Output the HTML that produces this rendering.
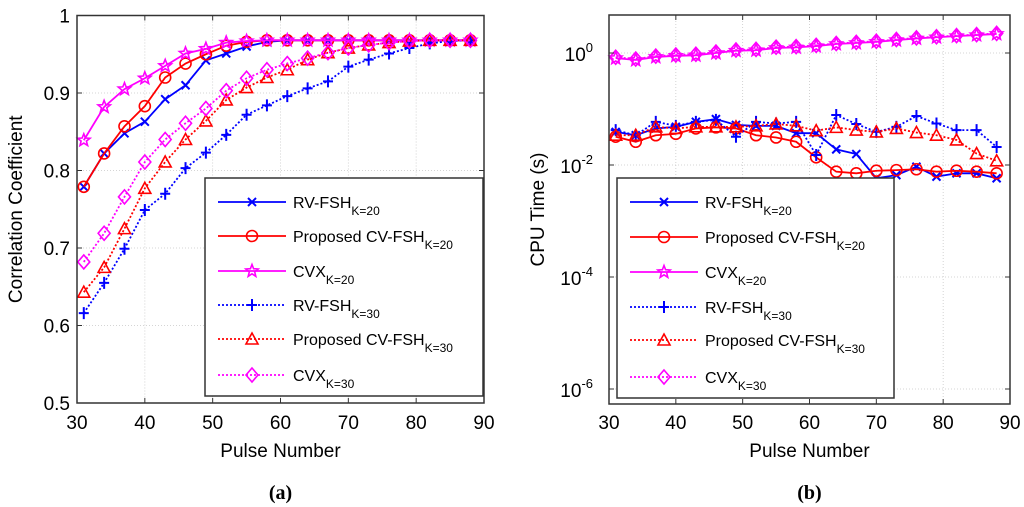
<!DOCTYPE html>
<html><head><meta charset="utf-8"><style>
html,body{margin:0;padding:0;background:#fff}
svg{display:block;font-family:"Liberation Sans",sans-serif}
</style></head><body>
<svg id="fig" width="1024" height="507" viewBox="0 0 1024 507"></svg>
<script>
const pulses=[31,34,37,40,43,46,49,52,55,58,61,64,67,70,73,76,79,82,85,88];
const xTicks=[30,40,50,60,70,80,90];
const corrTicks=[0.5,0.6,0.7,0.8,0.9,1];
const corrTickLabels=["0.5","0.6","0.7","0.8","0.9","1"];
const timeTickExps=[-6,-4,-2,0];
const corrRV20=[0.779,0.822,0.848,0.863,0.892,0.910,0.942,0.951,0.960,0.966,0.968,0.968,0.968,0.968,0.968,0.968,0.968,0.968,0.968,0.968];
const corrP20=[0.779,0.822,0.857,0.883,0.920,0.938,0.950,0.961,0.966,0.968,0.968,0.968,0.968,0.968,0.968,0.968,0.968,0.968,0.968,0.968];
const corrCVX20=[0.839,0.882,0.905,0.919,0.935,0.951,0.957,0.965,0.967,0.968,0.968,0.968,0.968,0.968,0.968,0.968,0.968,0.968,0.968,0.968];
const corrRV30=[0.616,0.655,0.699,0.749,0.770,0.803,0.823,0.846,0.872,0.884,0.896,0.906,0.915,0.934,0.943,0.951,0.958,0.964,0.967,0.968];
const corrP30=[0.643,0.675,0.725,0.777,0.811,0.840,0.864,0.891,0.907,0.920,0.930,0.943,0.952,0.958,0.962,0.965,0.967,0.968,0.968,0.968];
const corrCVX30=[0.682,0.719,0.766,0.811,0.840,0.861,0.880,0.903,0.919,0.930,0.938,0.945,0.952,0.958,0.962,0.965,0.967,0.968,0.968,0.968];
const timeRV20=[0.039,0.034,0.045,0.048,0.059,0.066,0.052,0.050,0.050,0.037,0.037,0.019,0.0157,0.0058,0.0066,0.0093,0.0062,0.0071,0.0071,0.0058];
const timeP20=[0.032,0.026,0.034,0.036,0.045,0.047,0.045,0.034,0.031,0.026,0.0137,0.0076,0.0071,0.0079,0.0081,0.0084,0.0076,0.0079,0.0076,0.0071];
const timeCVX20=[0.81,0.75,0.85,0.89,0.91,1.0,1.10,1.12,1.23,1.26,1.33,1.45,1.51,1.58,1.70,1.82,1.91,2.0,2.09,2.19];
const timeRV30=[0.042,0.034,0.059,0.050,0.059,0.064,0.032,0.059,0.055,0.059,0.0151,0.078,0.054,0.039,0.048,0.075,0.055,0.042,0.042,0.021];
const timeP30=[0.034,0.034,0.048,0.045,0.048,0.048,0.048,0.050,0.054,0.050,0.041,0.047,0.042,0.039,0.045,0.038,0.034,0.028,0.016,0.0119];
const timeCVX30=[0.84,0.78,0.88,0.92,0.95,1.04,1.13,1.16,1.27,1.30,1.37,1.48,1.55,1.62,1.74,1.86,1.95,2.04,2.13,2.24];

const NS="http://www.w3.org/2000/svg";
const svg=document.getElementById('fig');
function mk(tag,attrs,parent){const e=document.createElementNS(NS,tag);for(const k in attrs)e.setAttribute(k,attrs[k]);(parent||svg).appendChild(e);return e;}
function txt(s,x,y,size,anchor,parent,extra){const t=mk('text',Object.assign({x:x,y:y,'font-size':size,'text-anchor':anchor||'middle',fill:'#000'},extra||{}),parent);t.textContent=s;return t;}

function marker(g,type,x,y,color){
  const r=5.5,sw=1.6;let e;
  if(type==='x'){e=mk('path',{d:`M${x-4} ${y-4}L${x+4} ${y+4}M${x-4} ${y+4}L${x+4} ${y-4}`,stroke:color,'stroke-width':2,fill:'none'},g);}
  else if(type==='o'){e=mk('circle',{cx:x,cy:y,r:r,stroke:color,'stroke-width':sw,fill:'none'},g);}
  else if(type==='+'){e=mk('path',{d:`M${x-5} ${y}L${x+5} ${y}M${x} ${y-6}L${x} ${y+6}`,stroke:color,'stroke-width':2,fill:'none'},g);}
  else if(type==='^'){e=mk('path',{d:`M${x} ${y-6}L${x+6} ${y+5}L${x-6} ${y+5}Z`,stroke:color,'stroke-width':sw,fill:'none'},g);}
  else if(type==='d'){e=mk('path',{d:`M${x} ${y-7}L${x+6} ${y}L${x} ${y+7}L${x-6} ${y}Z`,stroke:color,'stroke-width':sw,fill:'none'},g);}
  else if(type==='*'){let p='';for(let i=0;i<10;i++){const a=-Math.PI/2+i*Math.PI/5;const rr=i%2?2.8:6.5;p+=(i?'L':'M')+(x+rr*Math.cos(a)).toFixed(1)+' '+(y+rr*Math.sin(a)).toFixed(1);}e=mk('path',{d:p+'Z',stroke:color,'stroke-width':sw,fill:'none'},g);}
  
  
}

const seriesDefs=[
 {name:'RV-FSH',k:'20',color:'#0000ff',dash:null,m:'x'},
 {name:'Proposed CV-FSH',k:'20',color:'#ff0000',dash:null,m:'o'},
 {name:'CVX',k:'20',color:'#ff00ff',dash:null,m:'*'},
 {name:'RV-FSH',k:'30',color:'#0000ff',dash:'2,2',m:'+'},
 {name:'Proposed CV-FSH',k:'30',color:'#ff0000',dash:'2,2',m:'^'},
 {name:'CVX',k:'30',color:'#ff00ff',dash:'2,2',m:'d'}];

function panel(o){
  const g=mk('g',{});
  const {L,R,T,B}=o;
  const xs=v=>L+(v-30)/60*(R-L);
  const grid=mk('g',{},g);
  xTicks.forEach(v=>{if(v>30&&v<90)mk('line',{x1:xs(v),x2:xs(v),y1:T,y2:B,stroke:'#c8c8c8','stroke-width':0.8,'stroke-dasharray':'1,2'},grid);});
  o.yTicks.forEach(v=>{const y=o.ys(v);if(y>T+1&&y<B-1)mk('line',{x1:L,x2:R,y1:y,y2:y,stroke:'#c8c8c8','stroke-width':0.8,'stroke-dasharray':'1,2'},grid);});
  // series
  o.series.forEach((vals,i)=>{
    const d=seriesDefs[i];
    const sg=mk('g',{},g);
    const pts=pulses.map((p,j)=>[xs(p),o.ys(vals[j])]);
    const a={points:pts.map(p=>p.join(',')).join(' '),fill:'none',stroke:d.color,'stroke-width':1.8};
    if(d.dash)a['stroke-dasharray']=d.dash;
    const pl=mk('polyline',a,sg);
    
    
    pts.forEach(p=>marker(sg,d.m,p[0],p[1],d.color));
  });
  // axes box & ticks
  mk('rect',{x:L,y:T,width:R-L,height:B-T,fill:'none',stroke:'#333','stroke-width':1.5,},g);
  const tk=mk('g',{},g);
  xTicks.forEach(v=>{const x=xs(v);mk('line',{x1:x,x2:x,y1:B,y2:B-5,stroke:'#333'},tk);mk('line',{x1:x,x2:x,y1:T,y2:T+5,stroke:'#333'},tk);txt(String(v),x,o.xlabY,19,'middle',tk);});
  const ty=mk('g',{},g);
  o.yTicks.forEach((v,i)=>{const y=o.ys(v);mk('line',{x1:L,x2:L+5,y1:y,y2:y,stroke:'#333'},ty);mk('line',{x1:R,x2:R-5,y1:y,y2:y,stroke:'#333'},ty);o.yLabel(ty,v,i,y);});
  txt('Pulse Number',(L+R)/2,457,19,'middle',g,{});
  txt(o.ytitle,0,0,19,'middle',g,{transform:`translate(${o.ytx},${(T+B)/2}) rotate(-90)`,});
  const cap=txt(o.cap,(L+R)/2,499,20,'middle',g,{'font-family':'Liberation Serif,serif','font-weight':'bold',});
  // legend
  const lg=mk('g',{},g);
  mk('rect',{x:o.lx,y:178,width:o.lw,height:o.lh,fill:'#fff',stroke:'#333','stroke-width':1.5},lg);
  o.ly.forEach((y,i)=>{
    const d=seriesDefs[i];
    const e=mk('g',{},lg);
    const a={x1:o.lx+13,x2:o.lx+81,y1:y,y2:y,stroke:d.color,'stroke-width':1.8};
    if(d.dash)a['stroke-dasharray']=d.dash;
    mk('line',a,e);
    marker(e,d.m,o.lx+47,y,d.color);
    const t=txt('',o.lx+88,y+6,16,'start',e);
    const s1=mk('tspan',{},t);s1.textContent=d.name+'H'.slice(0,0);
    const s2=mk('tspan',{dy:7,'font-size':12},t);s2.textContent='K='+d.k;
  });
}

panel({id:'correlation-panel',L:77,R:484,T:15.5,B:403,
  ys:v=>403-(v-0.5)/0.5*387.5,yTicks:corrTicks,
  yLabel:(g,v,i,y)=>txt(corrTickLabels[i],70,y+7,19,'end',g),
  series:[corrRV20,corrP20,corrCVX20,corrRV30,corrP30,corrCVX30],
  xlabY:429,ytitle:'Correlation Coefficient',ytx:22,cap:'(a)',
  lx:205,lw:278,lh:218,ly:[202,236,271,305,339,375]});

panel({id:'cpu-time-panel',L:609,R:1010,T:15,B:404,
  ys:v=>53-Math.log10(v)*56,yTicks:timeTickExps.map(e=>Math.pow(10,e)),
  yLabel:(g,v,i,y)=>{const t=txt('',593,y+8,19,'end',g);const a=mk('tspan',{},t);a.textContent='10';const b=mk('tspan',{dy:-9,'font-size':13},t);b.textContent=String(timeTickExps[i]);},
  series:[timeRV20,timeP20,timeCVX20,timeRV30,timeP30,timeCVX30],
  xlabY:429,ytitle:'CPU Time (s)',ytx:544,cap:'(b)',
  lx:617,lw:277,lh:220,ly:[202,237,272,307,340,377]});
</script>
</body></html>
